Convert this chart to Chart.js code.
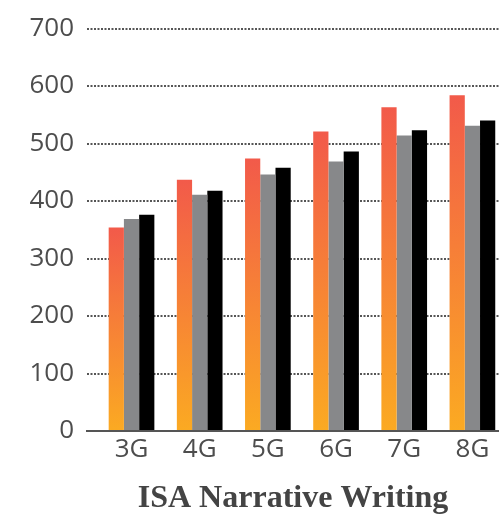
<!DOCTYPE html>
<html>
<head>
<meta charset="utf-8">
<style>
  html, body { margin: 0; padding: 0; background: #fff; overflow: hidden; }
  #wrap { width: 499px; height: 518px; position: relative; }
</style>
<script src="https://cdn.jsdelivr.net/npm/chart.js@4/dist/chart.umd.min.js"></script>
</head>
<body>
<div id="wrap"><canvas id="chart"></canvas></div>
<script>
const grades = ["3G", "4G", "5G", "6G", "7G", "8G"];
const seriesA = [354, 437, 474, 521, 563, 584];
const seriesB = [369, 411, 446, 469, 514, 531];
const seriesC = [376, 418, 458, 486, 523, 540];
const yTicks = [0, 100, 200, 300, 400, 500, 600, 700];
const chartTitle = "ISA Narrative Writing";

const labelColor = "#4d4d4d";

function points(values) {
  return values.map((v, i) => ({ x: i, y: v }));
}

// per-bar gradient, red at the top fading to orange at the base
function redGradient(ctx) {
  const chart = ctx.chart;
  const y = chart.scales.y;
  if (!y || ctx.type !== "data") return "#f25b4b";
  const top = y.getPixelForValue(ctx.raw.y);
  const base = y.getPixelForValue(0);
  if (!isFinite(top) || !isFinite(base) || top === base) return "#f25b4b";
  const g = chart.ctx.createLinearGradient(0, top, 0, base);
  g.addColorStop(0, "#f25a4a");
  g.addColorStop(1, "#fbaa22");
  return g;
}

const bars = { barPercentage: 1, categoryPercentage: 0.67, borderWidth: 0 };

new Chart(document.getElementById("chart"), {
  type: "bar",
  data: {
    datasets: [
      { label: "A", data: points(seriesA), backgroundColor: redGradient, ...bars },
      { label: "B", data: points(seriesB), backgroundColor: "#87888a", ...bars },
      { label: "C", data: points(seriesC), backgroundColor: "#000000", ...bars }
    ]
  },
  options: {
    responsive: true,
    maintainAspectRatio: false,
    animation: false,
    layout: { padding: { top: 28, right: 0, left: 0, bottom: 0 } },
    plugins: {
      legend: { display: false },
      tooltip: { enabled: false }
    },
    scales: {
      x: {
        type: "linear",
        offset: false,
        min: -0.653,
        max: 5.39,
        grid: { display: false, drawTicks: false, offset: false },
        border: { display: true, color: "#555", width: 2 },
        afterBuildTicks: s => { s.ticks = grades.map((g, i) => ({ value: i })); },
        afterFit: s => { s.height = 87; },
        ticks: {
          color: labelColor,
          padding: 3,
          maxRotation: 0,
          autoSkip: false,
          font: { family: "Open Sans", size: 26 },
          callback: v => grades[v] ?? ""
        },
        title: {
          display: true,
          text: chartTitle,
          color: "#444",
          font: { family: "Liberation Serif", size: 32, weight: "bold" },
          padding: { top: 0, bottom: 0 }
        }
      },
      y: {
        min: 0,
        max: 700,
        afterBuildTicks: s => { s.ticks = yTicks.map(v => ({ value: v })); },
        afterFit: s => { s.width = 87; },
        grid: { color: "#555", lineWidth: 2, drawTicks: false },
        border: { display: false, dash: [2, 1.5] },
        ticks: {
          color: labelColor,
          padding: 13,
          font: { family: "Open Sans", size: 26 }
        }
      }
    }
  }
});
</script>
</body>
</html>
